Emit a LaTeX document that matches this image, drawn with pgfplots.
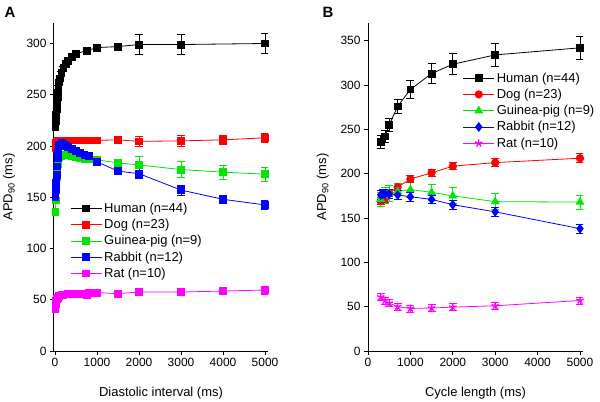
\documentclass[border=0pt]{standalone}
\usepackage{fontspec}
\setmainfont{Liberation Sans}
\usepackage{pgfplots}
\pgfplotsset{compat=1.18}

\definecolor{cHum}{RGB}{0,0,0}
\definecolor{cDog}{RGB}{255,0,0}
\definecolor{cGp}{RGB}{0,230,0}
\definecolor{cRab}{RGB}{0,0,255}
\definecolor{cRat}{RGB}{255,0,255}

\pgfplotsset{
  apd/.style={
    scale only axis,
    axis lines=left,
    axis line style={-,line width=1bp},
    tick align=outside,
    major tick length=4bp,
    tick style={line width=0.9bp,black},
    xtick pos=bottom, ytick pos=left,
    xtick={0,1000,...,5000},
    ymin=0,
    /pgf/number format/assume math mode=true,
    /pgf/number format/1000 sep={},
    tick label style={font=\fontsize{12}{14}\selectfont},
    label style={font=\fontsize{13}{15}\selectfont},
    xlabel style={at={(axis description cs:0.5,-0.128)},anchor=center},
    ylabel style={at={(axis description cs:-0.21,0.5)},anchor=center},
    ylabel={APD\textsubscript{90} (ms)},
    legend cell align=left,
    legend style={draw=none,fill=none,font=\fontsize{13}{15}\selectfont,
      row sep=1.4bp,inner sep=0pt},
    legend image code/.code={\draw[mark repeat=2,mark phase=2]
      plot coordinates {(0cm,0cm)(0.55cm,0cm)(1.1cm,0cm)};},
    every axis plot/.append style={line width=0.8bp,
      error bars/y dir=both, error bars/y explicit,
      error bars/error bar style={line width=0.8bp},
      error bars/error mark options={rotate=90,mark size=4bp,line width=0.8bp}},
  },
}

\begin{document}
\begin{tikzpicture}
\useasboundingbox (0,0) rectangle (600bp,402bp);

\node[font=\bfseries\fontsize{15}{17}\selectfont] at (10bp,390bp) {A};
\node[font=\bfseries\fontsize{15}{17}\selectfont] at (328bp,390bp) {B};

% Panel A: restitution vs diastolic interval
\begin{axis}[apd,
  at={(54bp,51bp)}, anchor=south west,
  width=214bp, height=328bp,
  xmin=-24, xmax=5071, ymax=320,
  ytick={0,50,...,300},
  xlabel={Diastolic interval (ms)},
  legend style={at={(0.075,0.458)},anchor=north west},
]
\addplot[cHum, mark=square*, mark size=3.4bp, mark options={solid}] coordinates {
(10,219) +- (0,2) (20,224) +- (0,2) (30,230) +- (0,2) (40,236) +- (0,2)
(50,242) +- (0,2) (60,248) +- (0,2) (70,252) +- (0,2) (80,257) +- (0,2)
(100,262) +- (0,2) (120,266) +- (0,2) (150,271) +- (0,2) (200,276) +- (0,2)
(250,280) +- (0,2) (300,283) +- (0,2) (400,287) +- (0,2) (500,290) +- (0,2)
(750,293) +- (0,2) (1000,296) +- (0,3) (1500,297) +- (0,3)
(2000,299) +- (0,10) (3000,299) +- (0,10) (5000,300) +- (0,10)
};
\addlegendentry{Human (n=44)}
\addplot[cDog, mark=square*, mark size=3.4bp] coordinates {
(10,198) +- (0,2) (20,201) +- (0,2) (30,203) +- (0,2) (50,204) +- (0,2)
(75,205) +- (0,2) (100,205) +- (0,2) (150,205) +- (0,2) (200,205) +- (0,2)
(250,205) +- (0,2) (300,205.5) +- (0,2) (400,205.5) +- (0,2) (500,205.5) +- (0,2)
(600,205.5) +- (0,2) (700,205.5) +- (0,2) (800,205.5) +- (0,2)
(1000,205.5) +- (0,2) (1500,206) +- (0,2.5)
(2000,204.5) +- (0,5) (3000,205) +- (0,5) (4000,206) +- (0,4.5) (5000,208) +- (0,4.5)
};
\addlegendentry{Dog (n=23)}
\addplot[cGp, mark=square*, mark size=3.4bp] coordinates {
(10,136) +- (0,2) (20,147) +- (0,2) (30,160) +- (0,2) (40,170) +- (0,2)
(50,177) +- (0,2) (60,182) +- (0,2) (80,186) +- (0,2) (100,189) +- (0,2)
(150,190) +- (0,2) (200,191) +- (0,2) (300,191) +- (0,2) (400,190) +- (0,2)
(500,189) +- (0,2) (600,188) +- (0,2) (700,187.5) +- (0,2) (800,187) +- (0,2)
(1000,186.5) +- (0,3) (1500,183.5) +- (0,3)
(2000,181.5) +- (0,8) (3000,177) +- (0,8) (4000,174.5) +- (0,7) (5000,172.5) +- (0,7)
};
\addlegendentry{Guinea-pig (n=9)}
\addplot[cRab, mark=square*, mark size=3.4bp] coordinates {
(10,150) +- (0,2) (20,157) +- (0,2) (30,164) +- (0,2) (40,172) +- (0,2)
(50,180) +- (0,2) (60,188) +- (0,2) (70,194) +- (0,2) (80,198) +- (0,2)
(100,201) +- (0,2) (150,203) +- (0,2) (200,202) +- (0,2) (250,200) +- (0,2)
(300,199) +- (0,2) (400,197) +- (0,2) (500,195) +- (0,2) (600,193) +- (0,2)
(700,191.5) +- (0,2) (800,190) +- (0,2) (1000,184.5) +- (0,2.5)
(1500,175.5) +- (0,3) (2000,173) +- (0,5) (3000,157) +- (0,5)
(4000,148) +- (0,4) (5000,142.5) +- (0,4)
};
\addlegendentry{Rabbit (n=12)}
\addplot[cRat, mark=square*, mark size=3.4bp] coordinates {
(10,41) +- (0,2) (20,46) +- (0,2) (30,49) +- (0,2) (40,51) +- (0,2)
(60,52) +- (0,2) (80,53) +- (0,2) (100,54) +- (0,2) (150,54.5) +- (0,2)
(200,55) +- (0,2) (300,55.5) +- (0,2) (400,56) +- (0,2) (500,56) +- (0,2)
(600,56) +- (0,2) (700,55.5) +- (0,2) (750,55) +- (0,2) (800,57) +- (0,2)
(1000,57) +- (0,2) (1500,56) +- (0,2.5) (2000,57.5) +- (0,3)
(3000,57.5) +- (0,3) (4000,58.5) +- (0,3.5) (5000,59.5) +- (0,4)
};
\addlegendentry{Rat (n=10)}
\end{axis}

% Panel B: APD90 vs cycle length
\begin{axis}[apd,
  at={(368bp,51bp)}, anchor=south west,
  width=215bp, height=328bp,
  xmin=0, xmax=5071, ymax=370,
  ytick={0,50,...,350},
  xlabel={Cycle length (ms)},
  legend style={at={(0.44,0.855)},anchor=north west},
]
\addplot[cHum, mark=square*, mark size=3.4bp] coordinates {
(300,236) +- (0,7) (400,242) +- (0,7) (500,255) +- (0,7) (700,276) +- (0,8)
(1000,295) +- (0,10) (1500,313) +- (0,11) (2000,323.5) +- (0,12)
(3000,334) +- (0,13) (5000,342) +- (0,13)
};
\addlegendentry{Human (n=44)}
\addplot[cDog, mark=*, mark size=3.7bp] coordinates {
(300,169) +- (0,4) (400,172) +- (0,4) (500,178) +- (0,4) (700,185) +- (0,4)
(1000,194) +- (0,4) (1500,201) +- (0,4) (2000,208.5) +- (0,4)
(3000,212.5) +- (0,4.5) (5000,217.5) +- (0,5)
};
\addlegendentry{Dog (n=23)}
\addplot[cGp, mark=triangle*, mark size=4.3bp] coordinates {
(300,171) +- (0,8) (400,175) +- (0,9) (500,178) +- (0,9) (700,180) +- (0,9)
(1000,182) +- (0,9) (1500,179) +- (0,9) (2000,175) +- (0,9)
(3000,168.5) +- (0,9) (5000,168) +- (0,8)
};
\addlegendentry{Guinea-pig (n=9)}
\addplot[cRab, mark=diamond*, mark size=4.3bp] coordinates {
(300,176) +- (0,5) (350,177) +- (0,5) (400,177) +- (0,5) (500,177) +- (0,5)
(700,176) +- (0,5) (1000,174) +- (0,5) (1500,171) +- (0,5)
(2000,165) +- (0,5) (3000,157) +- (0,5) (5000,138) +- (0,5)
};
\addlegendentry{Rabbit (n=12)}
\addplot[cRat, mark=star, mark size=3.9bp, mark options={line width=1.4bp}] coordinates {
(300,61) +- (0,4) (400,57) +- (0,4) (500,54) +- (0,4) (700,50) +- (0,4)
(1000,48) +- (0,4) (1500,48.5) +- (0,4) (2000,49.5) +- (0,4)
(3000,51) +- (0,4) (5000,57) +- (0,4)
};
\addlegendentry{Rat (n=10)}
\end{axis}
\end{tikzpicture}
\end{document}
